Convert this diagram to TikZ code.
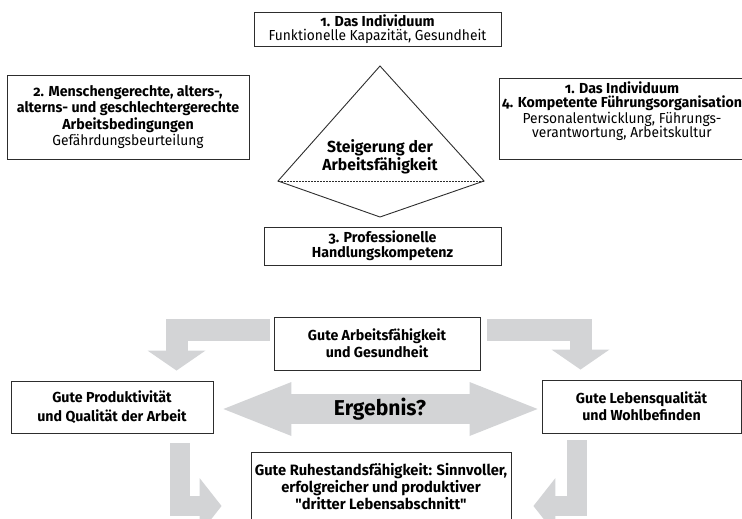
\documentclass[tikz,border=0pt]{standalone}
\usepackage{fontspec}
\setmainfont{Fira Sans}[Ligatures=TeXOff, Numbers=OldStyle, FakeStretch=0.95,
                        BoldFeatures={FakeStretch=0.98}]
\usetikzlibrary{arrows.meta,
                positioning}
\definecolor{arrowgrey}{RGB}{211,212,214}
\definecolor{frame}{RGB}{45,45,45}
\tikzset{block/.style =
   {rectangle,
    draw=frame,
    line width=0.9pt,
    align=center,
    inner sep=0pt,
    font=\fontsize{14.5}{14.5}\selectfont}}
\tikzset{result/.style =
   {block,
    font=\bfseries\fontsize{14.5}{17}\selectfont}}
\tikzset{fat-arrow/.style =
   {draw=arrowgrey,
    line width=22pt,
    -{Triangle[width=58pt, length=20pt, line width=0pt]}}}

\begin{document}
\begin{tikzpicture}[x=1pt, y=-1pt]

    \clip (0,0) rectangle (742,519);

    % upper half: the four fields round the triangle
    \node [block,
           minimum width=247pt,
           minimum height=34pt] (field1) at (377.5,29)
          {\textbf{1. Das Individuum}\\Funktionelle Kapazität, Gesundheit};

    \node [block,
           minimum width=242pt,
           minimum height=84pt,
           font=\fontsize{14.5}{16.3}\selectfont] (field2) at (128,117)
          {\textbf{2. Menschengerechte, alters-,}\\
           \textbf{alterns- und geschlechtergerechte}\\
           \textbf{Arbeitsbedingungen}\\
           Gefährdungsbeurteilung};

    \node [block,
           minimum width=246pt,
           minimum height=81pt,
           text depth=18pt] (field4) at (622,118.5)
          {\textbf{1. Das Individuum}\\
           \textbf{4. Kompetente Führungsorganisation}\\
           Personalentwicklung, Führungs-\\
           verantwortung, Arbeitskultur};

    \node [block,
           minimum width=237pt,
           minimum height=38pt,
           font=\bfseries\fontsize{14.5}{15}\selectfont] (field3) at (382.5,246)
          {3. Professionelle\\Handlungskompetenz};

    \coordinate (top) at (380,66);
    \coordinate (left) at (278,181);
    \coordinate (right) at (484,181);
    \coordinate (bottom) at (380,217);
    \draw [frame, line width=0.9pt] (top) -- (right) -- (bottom) -- (left) -- cycle;
    \draw [frame, dashed, dash pattern=on 2pt off 1pt] (left) -- (right);
    \node [align=center,
           font=\bfseries\fontsize{16}{17.5}\selectfont] (goal) at (380,157)
          {Steigerung der\\Arbeitsfähigkeit};

    % lower half: results
    \node [result,
           minimum width=206pt,
           minimum height=53pt] (health) at (377,343.5)
          {Gute Arbeitsfähigkeit\\und Gesundheit};

    \node [result,
           minimum width=202pt,
           minimum height=52pt,
           font=\bfseries\fontsize{14.5}{18.5}\selectfont] (work) at (112,407)
          {Gute Produktivität\\und Qualität der Arbeit};

    \node [result,
           minimum width=199pt,
           minimum height=53pt] (life) at (641.5,406.5)
          {Gute Lebensqualität\\und Wohlbefinden};

    \node [result,
           minimum width=260pt,
           minimum height=69pt,
           font=\bfseries\fontsize{15}{17}\selectfont] (retire) at (381,486.5)
          {Gute Ruhestandsfähigkeit: Sinnvoller,\\
           erfolgreicher und produktiver\\
           "dritter Lebensabschnitt"};

    \draw [fat-arrow] ([xshift=-4pt, yshift=14pt]health.west) -| ([xshift=64.5pt, yshift=10pt]work.north);
    \draw [fat-arrow] ([xshift=7pt, yshift=14pt]health.east) -| ([xshift=-61pt, yshift=10pt]life.north);

    \draw [fat-arrow,
           line width=20pt,
           -{Triangle[width=56pt, length=22pt, line width=0pt]}]
          ([xshift=68pt, yshift=-10pt]work.south) |- ([xshift=-29pt]retire.west |- 0,506);
    \draw [fat-arrow,
           line width=20pt,
           -{Triangle[width=56pt, length=22pt, line width=0pt]}]
          ([xshift=-65pt, yshift=-7pt]life.south) |- ([xshift=22pt]retire.east |- 0,506);

    \draw [fat-arrow,
           line width=30pt,
           {Triangle[width=54pt, length=68pt, line width=0pt]}-{Triangle[width=54pt, length=68pt, line width=0pt]},
           shorten <=10pt,
           shorten >=4pt] (work.east |- 0,409) -- (life.west |- 0,409);
    \node [font=\bfseries\fontsize{21.5}{23}\selectfont] (outcome) at (380,409) {Ergebnis?};

\end{tikzpicture}
\end{document}
